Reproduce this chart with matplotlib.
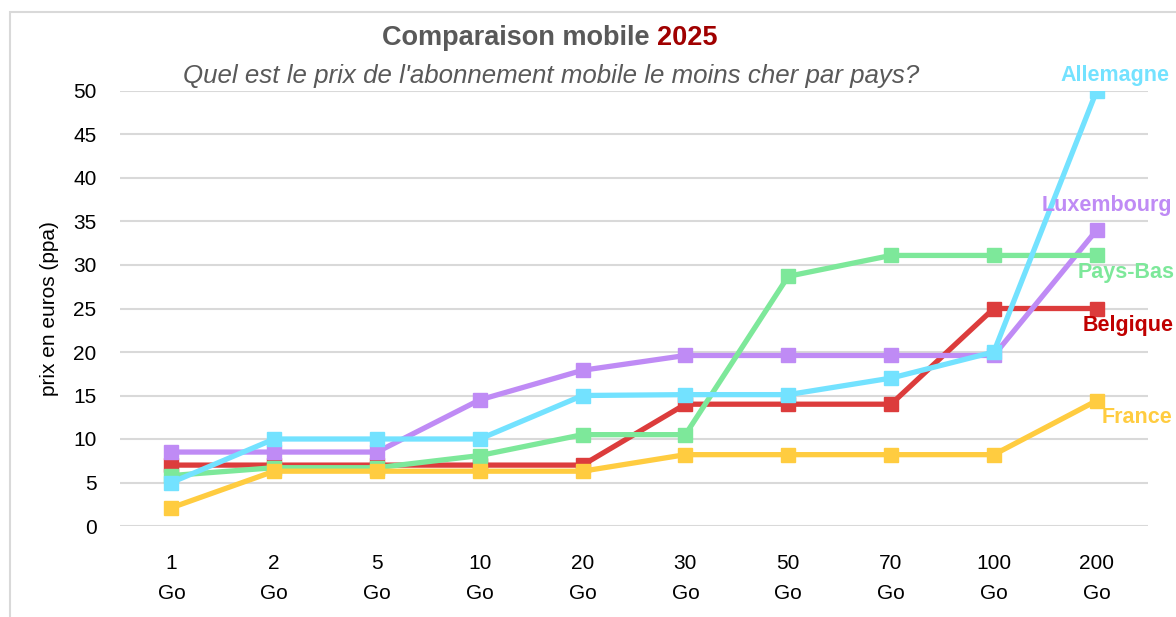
import matplotlib.pyplot as plt
from matplotlib.patches import Rectangle

plt.rcParams['font.family'] = ['Liberation Sans', 'DejaVu Sans']

# data
categories = ["1\nGo", "2\nGo", "5\nGo", "10\nGo", "20\nGo", "30\nGo", "50\nGo", "70\nGo", "100\nGo", "200\nGo"]
belgique = [7.0, 7.0, 7.0, 7.0, 7.0, 14.0, 14.0, 14.0, 25.0, 25.0]
luxembourg = [8.5, 8.5, 8.5, 14.5, 17.9, 19.6, 19.6, 19.6, 19.6, 34.0]
allemagne = [5.0, 10.0, 10.0, 10.0, 15.0, 15.1, 15.1, 17.0, 20.0, 50.0]
pays_bas = [5.8, 6.7, 6.7, 8.1, 10.5, 10.5, 28.7, 31.1, 31.1, 31.1]
france = [2.1, 6.3, 6.3, 6.3, 6.3, 8.2, 8.2, 8.2, 8.2, 14.4]
yticks = [0, 5, 10, 15, 20, 25, 30, 35, 40, 45, 50]

series = [
    ("Belgique", belgique, "#DC3C3C", "#C00000", (0.921, 0.473)),
    ("Luxembourg", luxembourg, "#BF8BF5", "#BF8BF5", (0.886, 0.667)),
    ("Pays-Bas", pays_bas, "#7DE89A", "#7DE89A", (0.916, 0.559)),
    ("Allemagne", allemagne, "#73E2FF", "#73E2FF", (0.902, 0.878)),
    ("France", france, "#FFCC40", "#FFCC40", (0.937, 0.324)),
]

fig = plt.figure(figsize=(11.76, 6.17), dpi=100)
ax = fig.add_axes([120/1176, 1-526/617, (1148-120)/1176, (526-91)/617])

x = list(range(len(categories)))
for name, vals, col, lcol, pos in series:
    ax.plot(x, vals, color=col, lw=3.8, marker='s', markersize=10.5, zorder=3)
    fig.text(pos[0], pos[1], name, color=lcol, fontsize=15.5, fontweight='bold',
             ha='left', va='center')

ax.set_xlim(-0.5, 9.5)
ax.set_ylim(0, 50)
ax.set_yticks(yticks)
ax.set_xticks(x)
ax.set_xticklabels(categories, linespacing=1.75)
ax.grid(axis='y', color='#D9D9D9', lw=1.5, zorder=0)
ax.grid(axis='x', visible=False)
for s in ax.spines.values():
    s.set_visible(False)
ax.tick_params(axis='both', length=0, labelsize=15)
ax.tick_params(axis='x', pad=20)
ax.tick_params(axis='y', pad=17)
ax.set_ylabel("prix en euros (ppa)", fontsize=15, labelpad=10)

# title in two colours
fig.text(0.559, 0.938, "Comparaison mobile ", color='#595959', fontsize=19.5,
         fontweight='bold', ha='right', va='center')
fig.text(0.559, 0.938, "2025", color='#A00000', fontsize=19.5,
         fontweight='bold', ha='left', va='center')
fig.text(0.469, 0.877, "Quel est le prix de l'abonnement mobile le moins cher par pays?",
         color='#595959', fontsize=18.6, style='italic', ha='center', va='center')

# chart area border
fig.patches.append(Rectangle((10/1176, -0.1), 1.2, 1-12/617+0.1, transform=fig.transFigure,
                             fill=False, edgecolor='#D9D9D9', lw=1.5))

fig.savefig("out.png", dpi=100)
